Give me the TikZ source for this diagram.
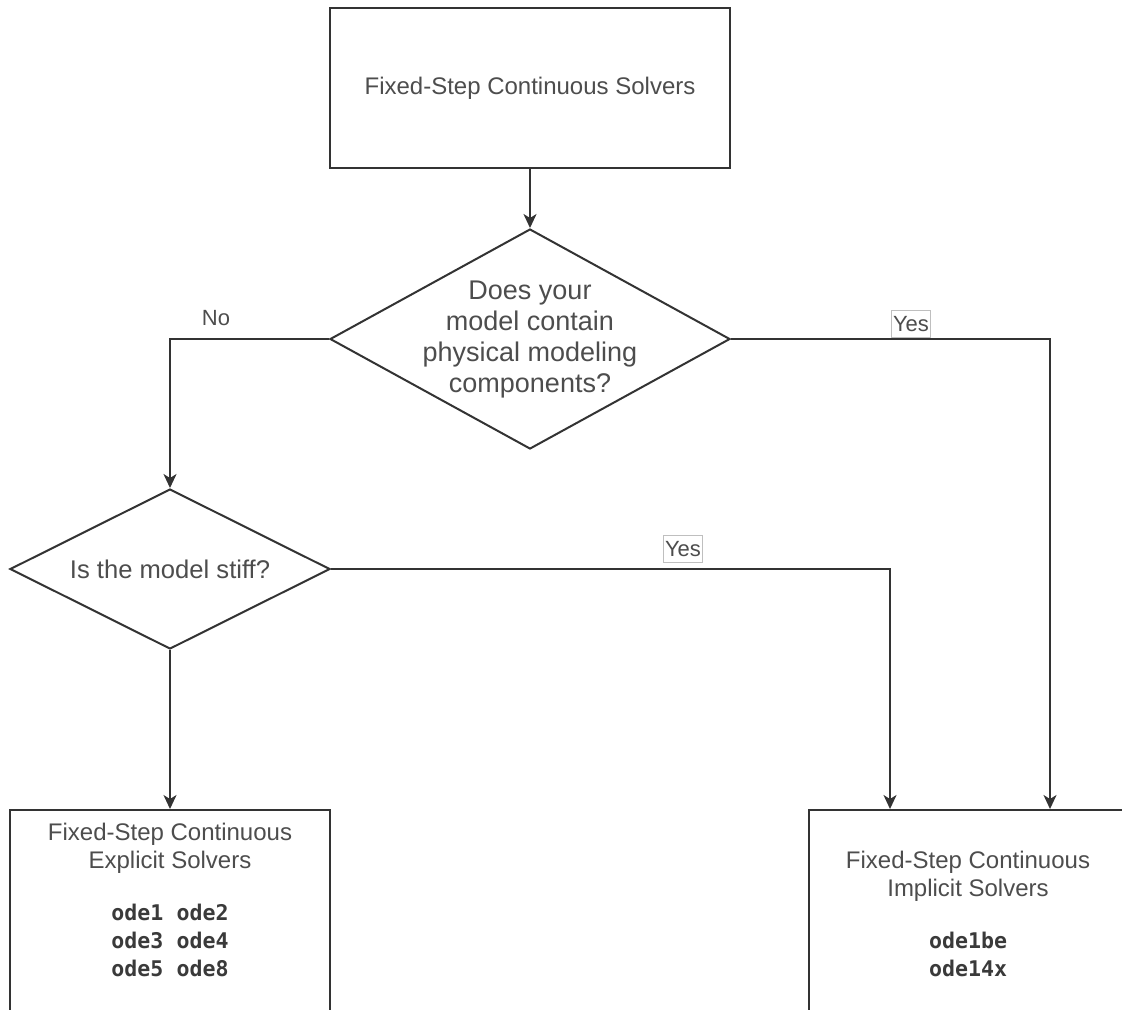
\documentclass[tikz,border=0pt]{standalone}
\usepackage{fontspec}
\setmainfont{Liberation Sans}
\setmonofont{DejaVu Sans Mono}
\usetikzlibrary{positioning,arrows.meta,calc,shapes.geometric}
\definecolor{ink}{HTML}{333333}
\definecolor{txt}{HTML}{4D4D4D}
\definecolor{code}{HTML}{3A3A3A}
\newcommand{\codefont}{\ttfamily\bfseries\color{code}\fontsize{10.8}{14}\selectfont}

\tikzset{
  box/.style={draw=ink, line width=1pt, fill=white, inner sep=0pt},
  decision/.style={diamond, draw=ink, line width=1pt, fill=white, inner sep=0pt},
  flow/.style={draw=ink, line width=1pt, -{Stealth[length=7pt,width=6.5pt,inset=2pt]}},
  boxtext/.style={text=txt, align=center, font=\fontsize{12}{14}\selectfont},
  answer/.style={text=txt, font=\fontsize{11}{13}\selectfont, inner sep=0.8pt},
  answerbox/.style={answer, draw=black!25, line width=0.4pt, fill=white, minimum height=13.5pt},
}

\begin{document}
\begin{tikzpicture}[x=0.5pt,y=-0.5pt]
\useasboundingbox (0,0) rectangle (1122,1009);
\clip (0,0) rectangle (1122,1009);
% boxes and questions
\node[box, boxtext, minimum width=200pt, minimum height=80pt] (top) at (530,88) {Fixed-Step Continuous Solvers};
\node[decision, minimum width=200pt, minimum height=110pt,
  label={[text=txt, align=center, font=\fontsize{13.5}{15.5}\selectfont]center:{Does your\\model contain\\physical modeling\\components?}}] (q1) at (530,339) {};
\node[decision, minimum width=160pt, minimum height=80pt,
  label={[text=txt, font=\fontsize{12.8}{15}\selectfont]center:{Is the model stiff?}}] (q2) at (170,569) {};
\node[box, minimum width=160pt, minimum height=115pt] (expl) at (170,925) {};
\node[box, minimum width=159pt, minimum height=115pt] (impl) at (968,925) {};
\node[boxtext] (explt) at (170,900) {Fixed-Step Continuous\\Explicit Solvers\\[12pt]
  \codefont ode1 ode2\\\codefont ode3 ode4\\\codefont ode5 ode8};
\node[boxtext] (implt) at (968,914) {Fixed-Step Continuous\\Implicit Solvers\\[12pt]
  \codefont ode1be\\\codefont ode14x};

% connectors
\coordinate (inStiff) at ($(impl.north)+(-78,0)$);
\coordinate (inPhys) at ($(impl.north)+(82,0)$);
\draw[flow] (top) -- (q1);
\draw[flow] (q1.west) -| (q2.north);
\draw[flow] (q1.east) -| (inPhys);
\draw[flow] (q2.east) -| (inStiff);
\draw[flow] (q2.south) -- (expl.north);

% answers
\node[answer] (no) at (216,318) {No};
\node[answerbox] (yes1) at (911,324) {Yes};
\node[answerbox] (yes2) at (683,549) {Yes};
\end{tikzpicture}
\end{document}
